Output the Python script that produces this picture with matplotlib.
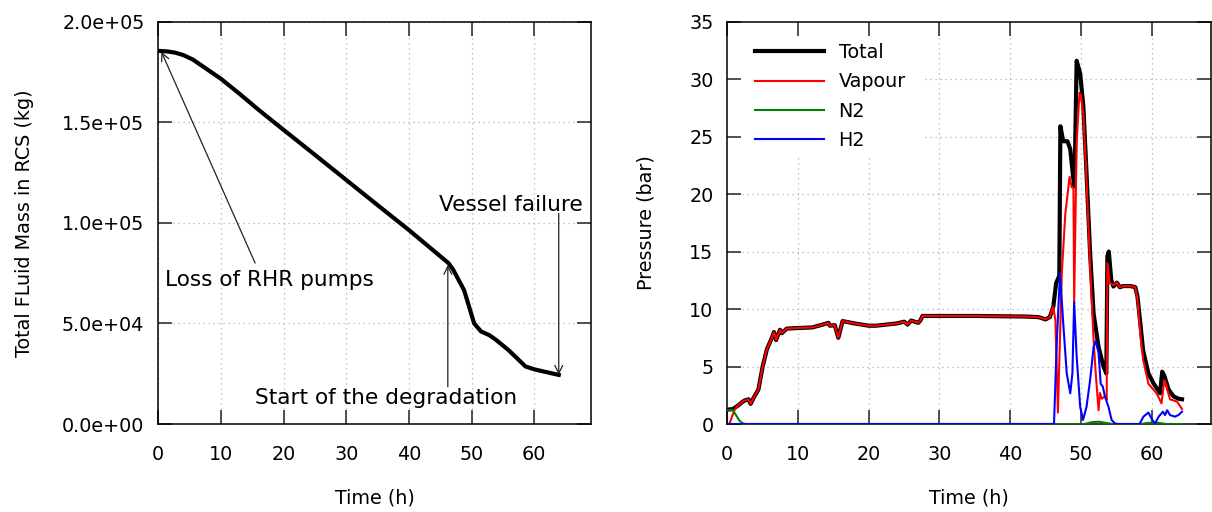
import matplotlib
matplotlib.use("Agg")
import matplotlib.pyplot as plt
from matplotlib.ticker import FormatStrFormatter, MultipleLocator

plt.rcParams['font.family'] = ['DejaVu Sans']

# --- left panel: total fluid mass in the RCS ---
mass_t = [0, 1.5, 2.7, 4.0, 5.5, 7.0, 10.0, 13.1, 16.0, 19.8, 25.0, 30.0, 35.0,
          40.0, 46.3, 47.0, 48.8, 50.4, 51.5, 52.8, 53.9, 55.9, 58.6, 60.1, 63.9]
mass_kg = [1.855e5, 1.852e5, 1.846e5, 1.834e5, 1.812e5, 1.78e5, 1.716e5, 1.638e5,
           1.562e5, 1.467e5, 1.338e5, 1.213e5, 1.088e5, 9.64e4, 8.0e4, 7.7e4, 6.65e4,
           5.0e4, 4.6e4, 4.42e4, 4.18e4, 3.67e4, 2.86e4, 2.71e4, 2.44e4]

# --- right panel: pressures ---
total_t = [0, 0.8, 1.5, 2.2, 2.5, 3.0, 3.3, 3.7, 4.4, 5.0, 5.6, 6.3, 6.6, 6.9, 7.45,
           7.7, 8.4, 10, 12, 13.5, 14.3, 14.5, 15.2, 15.7, 16.3, 18, 20, 21, 24, 25,
           25.5, 26, 27, 27.3, 27.6, 35, 42, 44, 45, 45.6, 46.1, 46.5, 46.95, 47.1,
           47.5, 48.1, 48.5, 48.9, 49.1, 49.4, 49.9, 50.35, 50.8, 51.3, 51.8, 52.5,
           53.2, 53.6, 53.75, 53.95, 54.3, 54.6, 55.1, 55.5, 56.0, 57.0, 57.7, 58.0,
           58.4, 58.8, 59.55, 60.3, 61.2, 61.5, 61.8, 62.4, 63.1, 63.8, 64.3]
total_p = [1.25, 1.3, 1.6, 1.95, 2.05, 2.15, 1.75, 2.25, 3.0, 5.0, 6.5, 7.5, 8.0, 7.3, 8.2,
           7.9, 8.3, 8.35, 8.4, 8.65, 8.8, 8.55, 8.6, 7.5, 8.95, 8.75, 8.55, 8.55, 8.75, 8.9,
           8.65, 9.0, 8.8, 9.0, 9.4, 9.4, 9.35, 9.3, 9.1, 9.3, 10.2, 12.25, 12.9, 25.9,
           24.6, 24.6, 23.9, 21.5, 20.7, 31.6, 30.5, 27.6, 21.8, 14.9, 9.6, 6.7,
           5.0, 4.4, 14.6, 15.0, 12.5, 11.96, 12.3, 11.9, 12.0, 12.0, 11.9, 11.1,
           8.8, 6.4, 4.4, 3.5, 2.67, 4.55, 4.2, 3.0, 2.4, 2.2, 2.15]

vapour_t = [0, 0.3, 1.0, 1.5, 2.2, 2.5, 3.0, 3.3, 3.7, 4.4, 5.0, 5.6, 6.3, 6.6, 6.9, 7.45,
            7.7, 8.4, 10, 12, 13.5, 14.3, 14.5, 15.2, 15.7, 16.3, 18, 20, 21, 24, 25,
            25.5, 26, 27, 27.3, 27.6, 35, 42, 44, 45, 45.6, 46.1, 46.4, 46.75, 47.3,
            47.8, 48.4, 48.7, 48.95, 49.05, 49.4, 49.8, 50.0, 50.35, 50.8, 51.3, 51.8,
            52.1, 52.5, 52.7, 52.95, 53.4, 53.65, 53.75, 54.1, 54.6, 55.1, 55.5, 56,
            57, 57.7, 58.0, 58.4, 58.8, 59.55, 60.7, 61.4, 61.8, 62.0, 62.6, 63.6, 64.3]
vapour_p = [0, 0, 1.2, 1.6, 1.95, 2.05, 2.15, 1.75, 2.25, 3.0, 5.0, 6.5, 7.5, 8.0, 7.3, 8.2,
            7.9, 8.3, 8.35, 8.4, 8.65, 8.8, 8.55, 8.6, 7.5, 8.95, 8.75, 8.55, 8.55, 8.75, 8.9,
            8.65, 9.0, 8.8, 9.0, 9.4, 9.4, 9.35, 9.3, 9.1, 9.3, 10.2, 9.0, 1.0, 13.1,
            18.3, 21.5, 20.6, 20.5, 10.5, 24.5, 28.8, 28.6, 27.0, 21.2, 13.7, 7.3,
            4.4, 1.2, 2.7, 2.2, 2.4, 2.1, 14.0, 12.25, 12.1, 12.3, 11.9, 12.0,
            12.0, 11.9, 10.8, 7.9, 5.6, 3.5, 2.67, 1.8, 3.8, 3.5, 2.15, 1.95, 1.3]

n2_t = [0, 0.8, 1.2, 1.7, 2.2, 2.6, 50.5, 51.5, 52.5, 53.5, 54.5, 58.5, 59.5, 61, 62, 64.3]
n2_p = [1.2, 1.2, 0.8, 0.3, 0.05, 0, 0, 0.15, 0.2, 0.1, 0, 0, 0.1, 0.1, 0, 0]

h2_t = [0, 46.2, 46.6, 47.05, 47.5, 48.0, 48.5, 48.8, 49.05, 49.4, 49.9, 50.3, 50.8,
        51.3, 51.8, 52.1, 52.5, 52.8, 53.1, 53.4, 53.9, 54.35, 54.8, 55.2, 58.3,
        58.85, 59.55, 60.1, 60.5, 61.0, 61.6, 61.9, 62.2, 62.6, 63.3, 63.8, 64.3]
h2_p = [0, 0, 7.3, 13.1, 8.8, 4.4, 2.67, 4.4, 10.6, 5.9, 1.5, 0.35, 1.5,
        3.8, 6.7, 7.2, 6.2, 3.5, 3.25, 2.4, 1.5, 0.35, 0.05, 0, 0,
        0.64, 1.0, 0.35, 0.05, 0.64, 1.07, 0.78, 1.2, 0.78, 0.64, 0.78, 1.07]

FS = 13.8
GRID = dict(color='#b0b0b0', linestyle=(0, (1, 3)), linewidth=0.9)

fig = plt.figure(figsize=(12.12, 5.12), dpi=100)
ax1 = fig.add_axes([158.3 / 1212, 88 / 512, 432.4 / 1212, 402.3 / 512])
ax2 = fig.add_axes([727.3 / 1212, 88 / 512, 483.7 / 1212, 402.3 / 512])


def style_axes(ax):
    for sp in ax.spines.values():
        sp.set_linewidth(1.1)
        sp.set_color('black')
    ax.tick_params(direction='in', length=10, width=1.1, top=True, right=True,
                   labelsize=FS, color='#222222')
    ax.tick_params(axis='y', pad=10)
    ax.tick_params(axis='x', pad=15)


# left panel
ax1.plot(mass_t, mass_kg, color='black', lw=3.0, zorder=3)
ax1.set_xlim(0, 69)
ax1.set_ylim(0, 2e5)
ax1.xaxis.set_major_locator(MultipleLocator(10))
ax1.yaxis.set_major_locator(MultipleLocator(5e4))
ax1.yaxis.set_major_formatter(FormatStrFormatter('%.1e'))
ax1.grid(True, **GRID)
style_axes(ax1)
ax1.set_xlabel('Time (h)', fontsize=FS, labelpad=18)
ax1.set_ylabel('Total FLuid Mass in RCS (kg)', fontsize=FS, labelpad=20)

arrow = dict(arrowstyle='->', lw=0.9, color='#222222', shrinkA=0, shrinkB=0,
             mutation_scale=14)
ax1.annotate('', xy=(0.5, 1.85e5), xytext=(15.45, 8.0e4), arrowprops=arrow, zorder=4)
ax1.annotate('', xy=(46.2, 7.9e4), xytext=(46.2, 1.85e4), arrowprops=arrow, zorder=4)
ax1.annotate('', xy=(63.9, 2.45e4), xytext=(63.9, 1.047e5), arrowprops=arrow, zorder=4)
ax1.text(1.0, 6.86e4, 'Loss of RHR pumps', fontsize=15.6, va='baseline')
ax1.text(15.4, 0.99e4, 'Start of the degradation', fontsize=15.6, va='baseline')
ax1.text(44.8, 1.06e5, 'Vessel failure', fontsize=15.6, va='baseline')

# right panel
ax2.plot(total_t, total_p, color='black', lw=3.0, label='Total', zorder=3)
ax2.plot(vapour_t, vapour_p, color='#ff0000', lw=1.5, label='Vapour', zorder=4)
ax2.plot(n2_t, n2_p, color='#008000', lw=1.5, label='N2', zorder=5)
ax2.plot(h2_t, h2_p, color='#0000ff', lw=1.5, label='H2', zorder=6)
ax2.set_xlim(0, 68.4)
ax2.set_ylim(0, 35)
ax2.xaxis.set_major_locator(MultipleLocator(10))
ax2.yaxis.set_major_locator(MultipleLocator(5))
style_axes(ax2)
ax2.set_xlabel('Time (h)', fontsize=FS, labelpad=18)
ax2.set_ylabel('Pressure (bar)', fontsize=FS, labelpad=24)

# grid drawn by hand so it stays clear of the key area (ticks stay visible)
key_x, key_y = 27.9, 23.2
for yv in range(5, 35, 5):
    x0 = key_x if yv > key_y else 0
    ax2.plot([x0, 68.4], [yv, yv], zorder=1, **GRID)
for xv in range(10, 70, 10):
    y1 = key_y if xv < key_x else 35
    ax2.plot([xv, xv], [0, y1], zorder=1, **GRID)

ax2.legend(loc='upper left', bbox_to_anchor=(0.0573, 0.947), frameon=False,
           fontsize=FS, handlelength=3.6, handletextpad=0.76, labelspacing=0.54,
           borderpad=0, borderaxespad=0)

fig.savefig('out.png', dpi=100)
